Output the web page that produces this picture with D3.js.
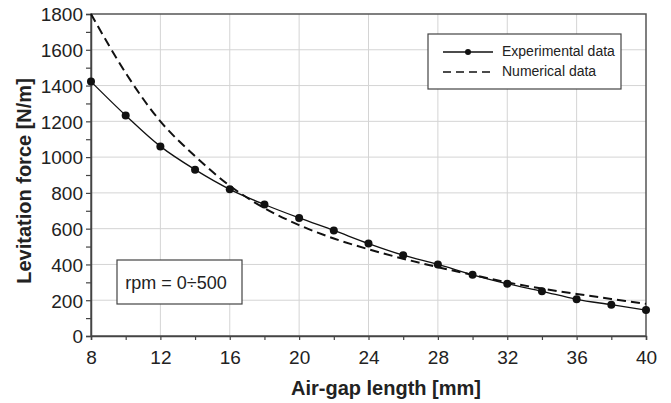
<!DOCTYPE html>
<html>
<head>
<meta charset="utf-8">
<script src="https://cdn.jsdelivr.net/npm/d3@7"></script>
<style>
  body { margin: 0; background: #fff; }
  svg { display: block; font-family: Arial, "Liberation Sans", sans-serif; }
</style>
</head>
<body>
<svg id="chart"></svg>
<script>
const gapMm = [8, 10, 12, 14, 16, 18, 20, 22, 24, 26, 28, 30, 32, 34, 36, 38, 40];
const experimental = [1422, 1233, 1060, 930, 820, 735, 660, 590, 517, 452, 400, 342, 292, 250, 205, 175, 145];
const numerical = [1800, 1470, 1200, 1005, 840, 715, 620, 545, 485, 432, 385, 342, 300, 265, 235, 207, 180];
const xTicks = [8, 12, 16, 20, 24, 28, 32, 36, 40];
const yTicks = [0, 200, 400, 600, 800, 1000, 1200, 1400, 1600, 1800];

const width = 671, height = 403;
const margin = { top: 14, right: 25, bottom: 67, left: 91 };

const svg = d3.select("#chart")
  .attr("width", width)
  .attr("height", height);

const x = d3.scaleLinear().domain([8, 40]).range([margin.left, width - margin.right]);
const y = d3.scaleLinear().domain([0, 1800]).range([height - margin.bottom, margin.top]);

// grid
const grid = svg.append("g").attr("stroke", "#d4d4d4").attr("stroke-width", 1);
grid.selectAll(".gx").data(xTicks.slice(1, -1)).enter().append("line")
  .attr("x1", d => x(d)).attr("x2", d => x(d))
  .attr("y1", y(0)).attr("y2", y(1800));
grid.selectAll(".gy").data(yTicks.slice(1, -1)).enter().append("line")
  .attr("x1", x(8)).attr("x2", x(40))
  .attr("y1", d => y(d)).attr("y2", d => y(d));

// frame
svg.append("rect")
  .attr("x", x(8)).attr("y", y(1800))
  .attr("width", x(40) - x(8)).attr("height", y(0) - y(1800))
  .attr("fill", "none").attr("stroke", "#555").attr("stroke-width", 1.5);

// axes
const xAxis = svg.append("g")
  .attr("transform", "translate(0," + y(0) + ")")
  .call(d3.axisBottom(x).tickValues(d3.range(8, 41, 2)).tickSize(4)
    .tickFormat(d => xTicks.includes(d) ? d : ""));
const yAxis = svg.append("g")
  .attr("transform", "translate(" + x(8) + ",0)")
  .call(d3.axisLeft(y).tickValues(d3.range(0, 1801, 100)).tickSize(5)
    .tickFormat(d => yTicks.includes(d) ? d : ""));

[xAxis, yAxis].forEach(a => {
  a.select(".domain").attr("stroke", "#444").attr("stroke-width", 1.5);
  a.selectAll(".tick line").attr("stroke", "#444").attr("stroke-width", 1.2);
  a.selectAll(".tick text").attr("font-size", 19).attr("fill", "#222")
    .attr("font-family", "Arial, 'Liberation Sans', sans-serif");
});
xAxis.selectAll(".tick text").attr("dy", "1.1em");
yAxis.selectAll(".tick text").attr("dy", "0.36em").attr("x", -8);

// axis titles
svg.append("text")
  .attr("x", 386).attr("y", 395)
  .attr("text-anchor", "middle")
  .attr("font-size", 20).attr("font-weight", "bold").attr("fill", "#222")
  .text("Air-gap length [mm]");
svg.append("text")
  .attr("transform", "translate(31,181) rotate(-90)")
  .attr("text-anchor", "middle")
  .attr("font-size", 20).attr("font-weight", "bold").attr("fill", "#222")
  .text("Levitation force [N/m]");

// series
const expData = gapMm.map((g, i) => ({ g, v: experimental[i] }));
const numData = gapMm.map((g, i) => ({ g, v: numerical[i] }));

const line = d3.line()
  .x(d => x(d.g))
  .y(d => y(d.v))
  .curve(d3.curveCatmullRom);

svg.append("path")
  .datum(numData)
  .attr("d", line)
  .attr("fill", "none")
  .attr("stroke", "#111")
  .attr("stroke-width", 2)
  .attr("stroke-dasharray", "9,5");

svg.append("path")
  .datum(expData)
  .attr("d", line)
  .attr("fill", "none")
  .attr("stroke", "#111")
  .attr("stroke-width", 1.3);

svg.selectAll(".pt").data(expData).enter().append("circle")
  .attr("cx", d => x(d.g))
  .attr("cy", d => y(d.v))
  .attr("r", 4)
  .attr("fill", "#111");

// legend
const legend = svg.append("g");
legend.append("rect")
  .attr("x", 428).attr("y", 34).attr("width", 193).attr("height", 55)
  .attr("fill", "#fff").attr("stroke", "#444").attr("stroke-width", 1.2);
legend.append("line")
  .attr("x1", 443).attr("x2", 493).attr("y1", 52).attr("y2", 52)
  .attr("stroke", "#111").attr("stroke-width", 1.3);
legend.append("circle").attr("cx", 468).attr("cy", 52).attr("r", 3).attr("fill", "#111");
legend.append("line")
  .attr("x1", 443).attr("x2", 493).attr("y1", 72).attr("y2", 72)
  .attr("stroke", "#111").attr("stroke-width", 1.3).attr("stroke-dasharray", "8,5");
legend.append("text").attr("x", 502).attr("y", 56).attr("font-size", 14).attr("fill", "#222")
  .text("Experimental data");
legend.append("text").attr("x", 502).attr("y", 76).attr("font-size", 14).attr("fill", "#222")
  .text("Numerical data");

// annotation
svg.append("rect")
  .attr("x", 117).attr("y", 260).attr("width", 125).attr("height", 44)
  .attr("fill", "#fff").attr("stroke", "#444").attr("stroke-width", 1.2);
svg.append("text")
  .attr("x", 176).attr("y", 289)
  .attr("text-anchor", "middle")
  .attr("font-size", 18).attr("fill", "#222")
  .text("rpm = 0÷500");
</script>
</body>
</html>
